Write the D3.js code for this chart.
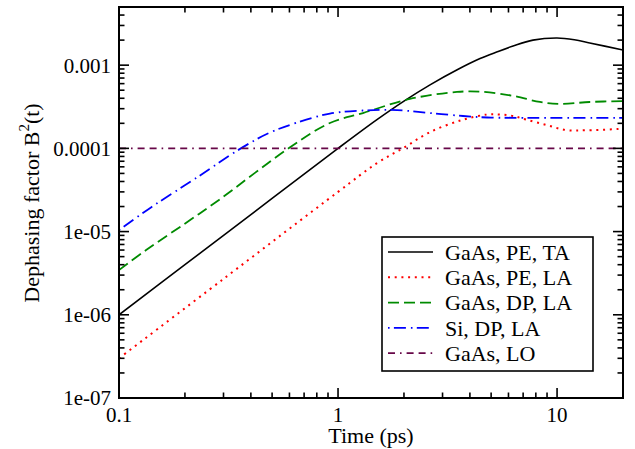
<!DOCTYPE html>
<html><head><meta charset="utf-8">
<script src="https://cdn.jsdelivr.net/npm/d3@7/dist/d3.min.js"></script>
<style>
html,body{margin:0;padding:0;background:#fff;}
svg{display:block;}
</style></head>
<body>
<svg id="chart" width="635" height="449" font-family="'Liberation Serif', 'Times New Roman', Times, 'DejaVu Serif', serif"></svg>
<script>
// ---- data ----
const taTime = [0.1, 0.2, 0.5, 1, 1.5, 2, 2.63, 3.5, 4.45, 5.3, 6.3, 7.76, 10, 12, 14.1, 20];
const taValue = [1e-6, 4e-6, 2.5e-5, 1e-4, 2.2e-4, 3.7e-4, 5.8e-4, 8.8e-4, 1.2e-3, 1.44e-3, 1.7e-3, 2.0e-3, 2.12e-3, 2.02e-3, 1.85e-3, 1.52e-3];

const peLaTime = [0.1, 0.3, 1, 1.5, 2, 2.63, 3.68, 4.8, 5.5, 6.3, 7.3, 9, 11, 13.7, 20];
const peLaValue = [3e-7, 2.7e-6, 3e-5, 6.6e-5, 1.02e-4, 1.57e-4, 2.19e-4, 2.55e-4, 2.55e-4, 2.45e-4, 2.2e-4, 1.9e-4, 1.66e-4, 1.65e-4, 1.72e-4];

const dpLaTime = [0.1, 0.133, 0.202, 0.286, 0.597, 0.918, 1.3, 2.13, 3.49, 4.5, 6.3, 8.35, 10.3, 14.1, 20];
const dpLaValue = [3.45e-6, 6.0e-6, 1.27e-5, 2.4e-5, 1.01e-4, 2.02e-4, 2.66e-4, 3.93e-4, 4.77e-4, 4.8e-4, 4.27e-4, 3.61e-4, 3.42e-4, 3.61e-4, 3.7e-4];

const siTime = [0.1, 0.141, 0.225, 0.36, 0.484, 0.643, 0.918, 1.3, 1.86, 2.63, 3.72, 4.8, 7, 20];
const siValue = [1.04e-5, 1.98e-5, 4.4e-5, 1.0e-4, 1.53e-4, 2.02e-4, 2.62e-4, 2.85e-4, 2.88e-4, 2.66e-4, 2.45e-4, 2.35e-4, 2.33e-4, 2.33e-4];

const loTime = [0.1, 20];
const loValue = [1e-4, 1e-4];

const seriesNames = ["GaAs, PE, TA", "GaAs, PE, LA", "GaAs, DP, LA", "Si, DP, LA", "GaAs, LO"];
const xTickLabels = ["0.1", "1", "10"];
const yTickLabels = ["1e-07", "1e-06", "1e-05", "0.0001", "0.001"];
const xDomain = [0.1, 20];
const yDomain = [1e-7, 5e-3];

// ---- layout ----
const L = 119, R = 623, T = 7, B = 398;
const svg = d3.select("#chart");
const x = d3.scaleLog().domain(xDomain).range([L, R]);
const y = d3.scaleLog().domain(yDomain).range([B, T]);

const series = [
  {name: seriesNames[0], t: taTime, v: taValue, color: "#000000", dash: null, w: 1.6},
  {name: seriesNames[1], t: peLaTime, v: peLaValue, color: "#ff0000", dash: "2,4.7", w: 2},
  {name: seriesNames[2], t: dpLaTime, v: dpLaValue, color: "#008b00", dash: "11,5", w: 1.8},
  {name: seriesNames[3], t: siTime, v: siValue, color: "#0000ff", dash: "1.6,4.3,12,5", w: 1.8},
  {name: seriesNames[4], t: loTime, v: loValue, color: "#670748", dash: "7,5,1.6,5,7,5", w: 1.8}
];

svg.append("defs").append("clipPath").attr("id","clip")
  .append("rect").attr("x",L).attr("y",T).attr("width",R-L).attr("height",B-T);

const line = d3.line().x(d=>x(d[0])).y(d=>y(d[1])).curve(d3.curveCatmullRom.alpha(0.5));
const plot = svg.append("g").attr("clip-path","url(#clip)");
series.forEach(s=>{
  plot.append("path")
    .datum(s.t.map((t,i)=>[t,s.v[i]]))
    .attr("d", line)
    .attr("fill","none")
    .attr("stroke", s.color)
    .attr("stroke-width", s.w)
    .attr("stroke-dasharray", s.dash);
});

// ---- ticks ----
const isMajor = v => Math.abs(Math.log10(v) - Math.round(Math.log10(v))) < 1e-6;
const tg = svg.append("g").attr("stroke","#000").attr("stroke-width",1.6);
x.ticks().forEach(v=>{
  const px = x(v), len = isMajor(v) ? 10 : 5.5;
  if (px <= L+0.5 || px >= R-0.5) return;
  tg.append("line").attr("x1",px).attr("x2",px).attr("y1",B).attr("y2",B-len);
  tg.append("line").attr("x1",px).attr("x2",px).attr("y1",T).attr("y2",T+len);
});
y.ticks().forEach(v=>{
  const py = y(v), len = isMajor(v) ? 10 : 5.5;
  if (py >= B-0.5 || py <= T+0.5) return;
  tg.append("line").attr("x1",L).attr("x2",L+len).attr("y1",py).attr("y2",py);
  tg.append("line").attr("x1",R).attr("x2",R-len).attr("y1",py).attr("y2",py);
});

// frame
svg.append("rect").attr("x",L).attr("y",T).attr("width",R-L).attr("height",B-T)
  .attr("fill","none").attr("stroke","#000").attr("stroke-width",2);

// tick labels
const xMajors = x.ticks().filter(isMajor);
xMajors.forEach((v,i)=>{
  svg.append("text").attr("x",x(v)).attr("y",422).attr("text-anchor","middle")
    .attr("font-size",21).text(xTickLabels[i]);
});
const yMajors = y.ticks().filter(isMajor);
yMajors.forEach((v,i)=>{
  svg.append("text").attr("x",111).attr("y",y(v)).attr("dy","0.35em").attr("text-anchor","end")
    .attr("font-size",21).text(yTickLabels[i]);
});

// axis titles
svg.append("text").attr("x",(L+R)/2).attr("y",443).attr("text-anchor","middle")
  .attr("font-size",22).text("Time (ps)");
const yt = svg.append("text").attr("transform","translate(38.5,203) rotate(-90)")
  .attr("text-anchor","middle").attr("font-size",22);
yt.append("tspan").text("Dephasing factor B");
yt.append("tspan").attr("font-size",15).attr("dy",-10).text("2");
yt.append("tspan").attr("dy",10).text("(t)");

// legend
const lg = svg.append("g");
lg.append("rect").attr("x",382).attr("y",237).attr("width",211).attr("height",134)
  .attr("fill","#fff").attr("stroke","#000").attr("stroke-width",1.6);
series.forEach((s,i)=>{
  const cy = 252 + i*25.3;
  lg.append("line").attr("x1",388).attr("x2",433).attr("y1",cy).attr("y2",cy)
    .attr("stroke",s.color).attr("stroke-width",s.w).attr("stroke-dasharray",s.dash);
  lg.append("text").attr("x",445).attr("y",cy).attr("dy","0.35em").attr("font-size",22).text(s.name);
});
</script>
</body></html>
